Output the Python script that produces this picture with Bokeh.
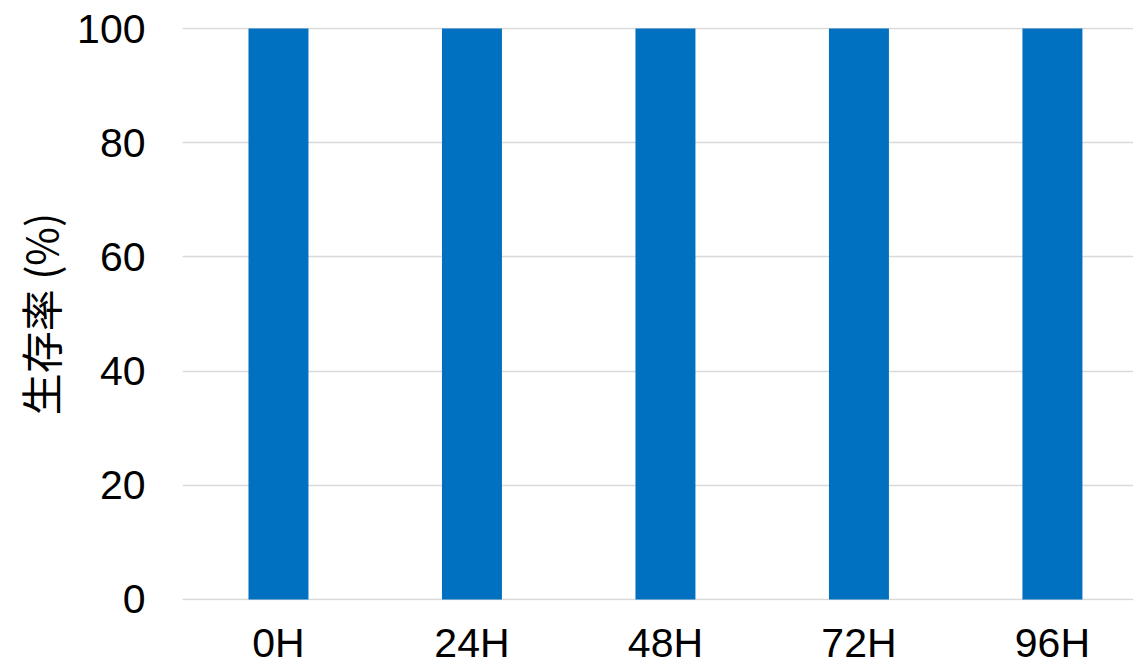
from bokeh.plotting import figure
from bokeh.models import Range1d, FixedTicker
from bokeh.embed import file_html
from bokeh.resources import INLINE

# Survival rate over time
categories = ["0H", "24H", "48H", "72H", "96H"]
survival = [100, 100, 100, 100, 100]
y_ticks = [0, 20, 40, 60, 80, 100]

positions = list(range(len(categories)))

FONT = "Liberation Sans"
CJK = "Noto Sans CJK JP"

p = figure(
    width=1133, height=668,
    x_range=Range1d(-0.496, 4.419), y_range=Range1d(-0.18, 100.18),
    output_backend="svg", toolbar_location=None,
    min_border_left=182, min_border_right=0,
    min_border_top=27, min_border_bottom=68,
)

p.vbar(x=positions, top=survival, width=0.31, bottom=0,
       color="#0070C0", line_color=None)

p.xaxis.ticker = FixedTicker(ticks=positions)
p.xaxis.major_label_overrides = {i: c for i, c in zip(positions, categories)}
p.yaxis.ticker = FixedTicker(ticks=y_ticks)

for ax in (p.xaxis, p.yaxis):
    ax.axis_line_color = None
    ax.major_tick_line_color = None
    ax.minor_tick_line_color = None
    ax.major_tick_out = 0
    ax.major_tick_in = 0
    ax.minor_tick_out = 0
    ax.minor_tick_in = 0
    ax.major_label_text_font = FONT
    ax.major_label_text_font_size = "41px"
    ax.major_label_text_color = "#000000"

p.xaxis.major_label_standoff = 19
p.yaxis.major_label_standoff = 37

p.yaxis.axis_label = "生存率 (%)"
p.yaxis.axis_label_text_font = CJK
p.yaxis.axis_label_text_font_size = "42px"
p.yaxis.axis_label_text_font_style = "normal"
p.yaxis.axis_label_text_color = "#000000"
p.yaxis.axis_label_standoff = 4

p.xgrid.grid_line_color = None
p.ygrid.grid_line_color = "#D9D9D9"
p.ygrid.grid_line_width = 1.5

p.outline_line_color = None
p.background_fill_color = "white"
p.border_fill_color = "white"

open("out.html", "w").write(file_html(p, INLINE))
